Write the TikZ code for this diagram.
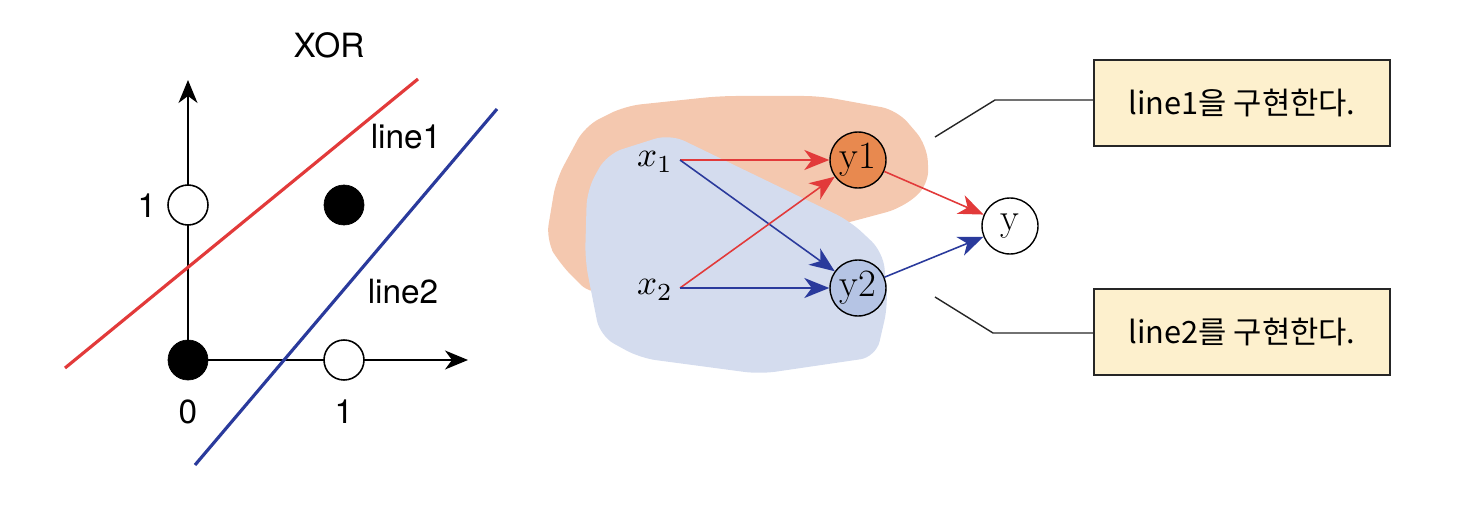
\documentclass[tikz,border=0pt]{standalone}
\usepackage{graphicx}
\usepackage{fontspec}
\setmainfont{Latin Modern Roman}
\newfontfamily\hvfont{TeX Gyre Heros}
\newfontfamily\krfont{Noto Sans CJK KR}
\usetikzlibrary{arrows.meta}
\definecolor{lred}{HTML}{E23A3A}
\definecolor{lblue}{HTML}{2A3A9C}
\definecolor{blobor}{HTML}{F4C8AF}
\definecolor{blobbl}{HTML}{D4DCEE}
\definecolor{yonefill}{HTML}{E8894F}
\definecolor{ytwofill}{HTML}{B5C4E4}
\definecolor{boxfill}{HTML}{FDF0CD}
\tikzset{
  ptwhite/.style={circle,draw=black,line width=0.9pt,fill=white,minimum size=0.8cm,inner sep=0pt},
  ptblack/.style={circle,draw=black,fill=black,minimum size=0.8cm,inner sep=0pt},
  axis/.style={line width=0.8pt,-{Stealth[length=0.46cm,width=0.38cm,inset=0.14cm]}},
  sepline/.style={line width=1.8pt},
  lbl/.style={font=\hvfont\fontsize{19}{22}\selectfont,inner sep=0pt},
  neuron/.style={circle,draw=black,line width=0.8pt,minimum size=1.12cm,inner sep=0pt,font=\rmfamily\fontsize{22}{24}\selectfont},
  inp/.style={inner sep=1pt},
  conn/.style={line width=0.9pt,-{Stealth[length=0.5cm,width=0.4cm,inset=0.15cm]}},
  callout/.style={draw=black!85,line width=1pt,fill=boxfill,minimum width=5.92cm,minimum height=1.72cm,inner sep=0pt,font=\krfont\fontsize{17.5}{20}\selectfont},
  leader/.style={line width=0.8pt,black!85}
}
\begin{document}
\begin{tikzpicture}[x=0.02cm,y=-0.02cm]
\useasboundingbox (0,0) rectangle (1468,510);
% ---------- left panel ----------
\coordinate (o) at (188,360);
\coordinate (yaxtip) at (188,80);
\coordinate (xaxtip) at (468,360);
\draw[axis] (o) -- (yaxtip);
\draw[axis] (o) -- (xaxtip);
\node[ptblack] (p00) at (o) {};
\node[ptwhite] (p10) at (344,360) {};
\node[ptwhite] (p01) at (188,205) {};
\node[ptblack] (p11) at (344,205) {};
\coordinate (r1) at (65,368);
\coordinate (r2) at (418,79);
\coordinate (b1) at (195,465);
\coordinate (b2) at (497,109);
\draw[sepline,lred] (r1) -- (r2);
\draw[sepline,lblue] (b1) -- (b2);
\node[lbl] (xor) at (329,45) {XOR};
\node[lbl] (l1) at (406,137) {line1};
\node[lbl] (l2) at (403,292) {line2};
\node[lbl] (t1y) at (147,206) {1};
\node[lbl] (t0) at (188,412) {0};
\node[lbl] (t1x) at (344,412) {1};
% ---------- right panel ----------
\fill[blobor,rounded corners=9pt] (546,240) -- (556,180) -- (585,126) -- (625,106) -- (720,96) -- (820,96) -- (897,110) -- (927,145) -- (929,185) -- (902,208) -- (850,222) -- (700,260) -- (592,296) -- (560,264) -- cycle;
\fill[blobbl,rounded corners=9pt] (670,134) -- (607,154) -- (587,190) -- (585,260) -- (600,336) -- (640,358) -- (760,374) -- (876,357) -- (888,305) -- (883,252) -- (850,221) -- cycle;
\node[inp] (x1) at (655,162) {\scalebox{2}{$x_1$}};
\node[inp] (x2) at (655,290) {\scalebox{2}{$x_2$}};
\node[neuron,fill=yonefill] (y1) at (858,160) {y1};
\node[neuron,fill=ytwofill] (y2) at (858,288) {y2};
\node[neuron,fill=white] (y) at (1010,226) {y};
\coordinate (x1s) at (680,160);
\coordinate (x2s) at (680,288);
\draw[conn,lred] (x1s) -- (y1);
\draw[conn,lblue] (x1s) -- (y2);
\draw[conn,lred] (x2s) -- (y1);
\draw[conn,lblue] (x2s) -- (y2);
\draw[conn,lred] (y1) -- (y);
\draw[conn,lblue] (y2) -- (y);
% ---------- callouts ----------
\node[callout] (c1) at (1242,103) {line1을 구현한다.};
\node[callout] (c2) at (1242,332) {line2를 구현한다.};
\coordinate (a1) at (935,137);
\coordinate (k1) at (995,100);
\coordinate (a2) at (935,297);
\coordinate (k2) at (993,333);
\draw[leader] (a1) -- (k1) -- (k1 -| c1.west);
\draw[leader] (a2) -- (k2) -- (k2 -| c2.west);
\end{tikzpicture}
\end{document}
